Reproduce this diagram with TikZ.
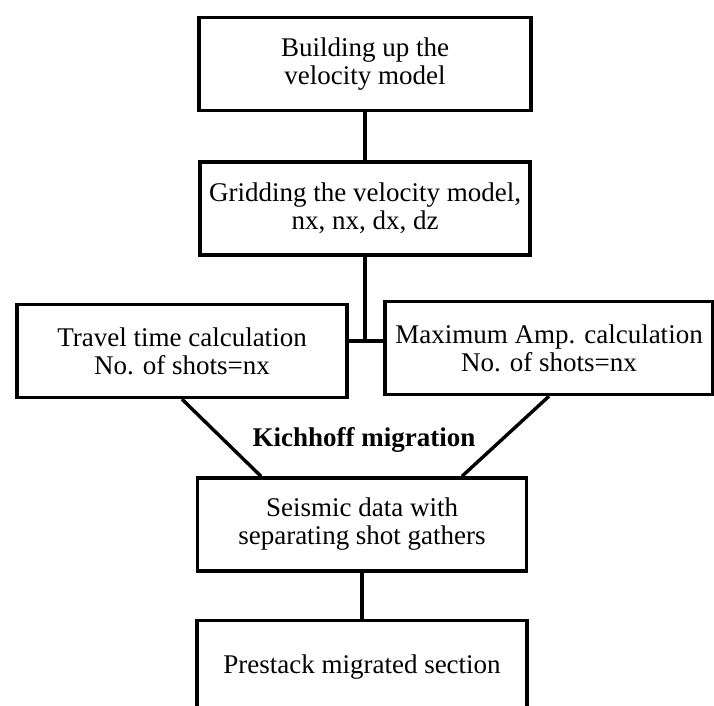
\documentclass[tikz,border=0pt]{standalone}
\usepackage{fontspec}
\setmainfont{Liberation Serif}
\usetikzlibrary{calc}

\begin{document}
\begin{tikzpicture}[x=0.5pt,y=0.5pt,line width=1.7pt,
        box/.style={draw,line width=1.7pt,inner sep=0pt,align=center,minimum height=46.5pt,
            font={\fontsize{13.5}{14}\selectfont}}]
                \clip (0,0) rectangle (714,706);
                \node[box,minimum width=166pt] (build) at(365,642){Building up the\\velocity model};
                \node[box,minimum width=165pt] (grid) at(365,497.5){Gridding the velocity model,\\nx, nx, dx, dz};
                \node[box,minimum width=165pt] (travel) at(182,355){Travel time calculation\\No. of shots=nx};
                \node[box,minimum width=164pt] (maxamp) at(549,358){Maximum Amp. calculation\\No. of shots=nx};
                \node[box,minimum width=164.5pt] (seismic) at(362,181.5){Seismic data with\\separating shot gathers};
                \node[box,minimum width=165pt,anchor=north] (prestack) at(362,87){Prestack migrated section};

                \node[font={\fontsize{13.5}{14}\selectfont\bfseries}] (kich) at(364,266){Kichhoff migration};

                \coordinate (jn) at(367,365);
                \draw (build.south) -- (grid.north);
                \draw (grid.south) -- (grid.south |- jn);
                \draw (travel.east |- jn) -- (maxamp.west |- jn);
                \draw (travel.south) -- ($(seismic.north)+(-101,0)$);
                \draw (maxamp.south) -- ($(seismic.north)+(100,0)$);
                \draw (seismic.south) -- (prestack.north);
            \end{tikzpicture}
\end{document}
